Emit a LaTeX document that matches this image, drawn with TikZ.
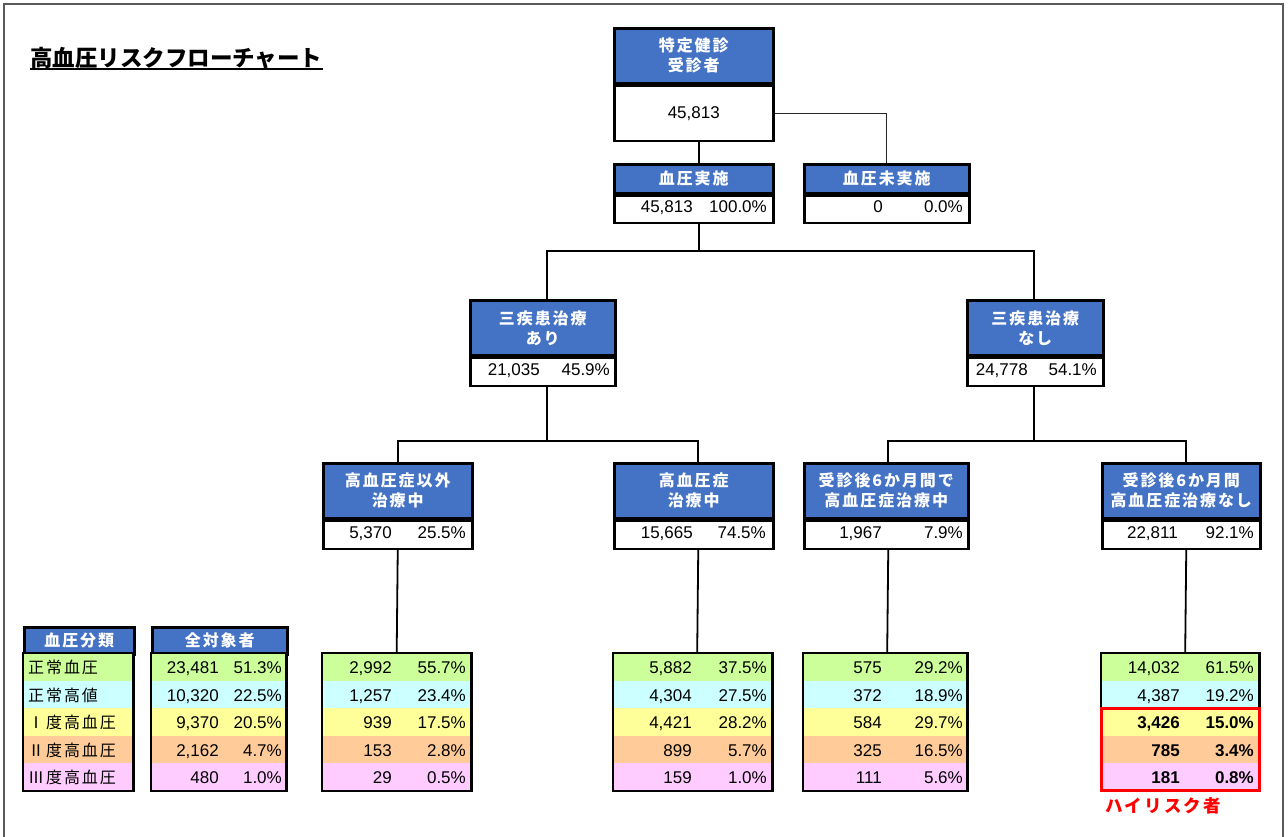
\documentclass[tikz,border=0pt]{standalone}
\usepackage{fontspec}
\setmainfont{Liberation Sans}
\newfontfamily\jp{Noto Sans CJK JP}
\newfontfamily\jpsp[LetterSpace=12]{Noto Sans CJK JP}
\usetikzlibrary{positioning, fit, calc}
\definecolor{hdrblue}{RGB}{68, 114, 196}
\definecolor{bpnorm}{RGB}{204, 255, 153}
\definecolor{bphigh}{RGB}{204, 255, 255}
\definecolor{bpone}{RGB}{255, 255, 153}
\definecolor{bptwo}{RGB}{255, 204, 153}
\definecolor{bpthree}{RGB}{255, 204, 255}
\definecolor{framegray}{RGB}{90, 90, 90}

\begin{document}
\begin{tikzpicture}[x=1pt, y=-1pt,
      hdr/.style={draw, line width=2.5, fill=hdrblue, text=white, inner sep=0, align=center, anchor=north west, font=\jpsp\bfseries\fontsize{16}{20}\selectfont},
      val/.style={draw, line width=2.5, fill=white, inner sep=0, anchor=north, font=\fontsize{17}{20}\selectfont},
      num/.style={anchor=base east, inner sep=0, font=\fontsize{17}{20}\selectfont},
      lbl/.style={anchor=base west, inner sep=0, font=\jpsp\fontsize{16}{20}\selectfont},
      row/.style={fill=#1, inner sep=0, minimum height=27.5, anchor=north west},
      tab/.style={draw, line width=2.5, inner sep=0},
      link/.style={line width=1.8}]

      \useasboundingbox (0,0) rectangle (1288,836);
      \draw[framegray, line width=1.5] (4,850) |- (1283,4) -- (1283,850);

      % Titre
      \node[anchor=base west, inner sep=0, font=\jp\bfseries\fontsize{22.5}{26}\selectfont] (title) at (30,66) {高血圧リスクフローチャート};
      \draw[line width=2] ([yshift=-3]title.base west) -- ([yshift=-3]title.base east);

      %受診者
      \node[hdr, minimum width=159, minimum height=55] (exam-h) at (613,27) {特定健診\\受診者};
      \node[val, minimum width=159, minimum height=55] (exam-v) at (exam-h.south) {45,813};

      % 血圧実施 / 未実施
      \node[hdr, minimum width=159, minimum height=29] (bp-h) at (613,163) {血圧実施};
      \node[val, minimum width=159, minimum height=27] (bp-v) at (bp-h.south) {};
      \node[num] (bp-n) at (693,212.5) {45,813};
      \node[num] (bp-p) at (767,212.5) {100.0\%};
      \node[hdr, minimum width=165, minimum height=29] (nobp-h) at (803,163) {血圧未実施};
      \node[val, minimum width=165, minimum height=27] (nobp-v) at (nobp-h.south) {};
      \node[num] (nobp-n) at (883,212.5) {0};
      \node[num] (nobp-p) at (963,212.5) {0.0\%};

      % 三疾患治療
      \node[hdr, minimum width=145, minimum height=55] (treat-h) at (469,299) {三疾患治療\\あり};
      \node[val, minimum width=145, minimum height=28] (treat-v) at (treat-h.south) {};
      \node[num] (treat-n) at (540,375) {21,035};
      \node[num] (treat-p) at (610,375) {45.9\%};
      \node[hdr, minimum width=136, minimum height=55] (notreat-h) at (966,299) {三疾患治療\\なし};
      \node[val, minimum width=136, minimum height=28] (notreat-v) at (notreat-h.south) {};
      \node[num] (notreat-n) at (1028,375) {24,778};
      \node[num] (notreat-p) at (1097,375) {54.1\%};

      % 高血圧症治療
      \node[hdr, minimum width=149, minimum height=55] (other-h) at (322,462) {高血圧症以外\\治療中};
      \node[val, minimum width=149, minimum height=28] (other-v) at (other-h.south) {};
      \node[num] (other-n) at (392,538) {5,370};
      \node[num] (other-p) at (466,538) {25.5\%};
      \node[hdr, minimum width=159, minimum height=55] (htn-h) at (613,462) {高血圧症\\治療中};
      \node[val, minimum width=159, minimum height=28] (htn-v) at (htn-h.south) {};
      \node[num] (htn-n) at (693,538) {15,665};
      \node[num] (htn-p) at (766,538) {74.5\%};
      \node[hdr, minimum width=164, minimum height=55] (late-h) at (803,462) {受診後6か月間で\\高血圧症治療中};
      \node[val, minimum width=164, minimum height=28] (late-v) at (late-h.south) {};
      \node[num] (late-n) at (882,538) {1,967};
      \node[num] (late-p) at (963,538) {7.9\%};
      \node[hdr, minimum width=158, minimum height=55] (none-h) at (1101,462) {受診後6か月間\\高血圧症治療なし};
      \node[val, minimum width=158, minimum height=28] (none-v) at (none-h.south) {};
      \node[num] (none-n) at (1178,538) {22,811};
      \node[num] (none-p) at (1254,538) {92.1\%};

      % 血圧分類の表
      \node[hdr, minimum width=110, minimum height=27] (class-h) at (23,626) {血圧分類};
      \foreach \t/\c [count=\r] in {正常血圧/bpnorm, 正常高値/bphigh, Ⅰ度高血圧/bpone, Ⅱ度高血圧/bptwo, Ⅲ度高血圧/bpthree}{
        \node[row=\c, minimum width=110] (class-\r) at (23,{653+27.5*(\r-1)}) {};
        \node[lbl] (class-l\r) at (28,{660+27.5*(\r-0.5)}) {\t};
      }
      \node[tab, fit=(class-1)(class-5)] (class) {};

      \node[hdr, minimum width=135, minimum height=27] (all-h) at (151,626) {全対象者};
      \foreach \n/\p/\c [count=\r] in {{23,481}/51.3/bpnorm, {10,320}/22.5/bphigh, {9,370}/20.5/bpone, {2,162}/4.7/bptwo, 480/1.0/bpthree}{
        \node[row=\c, minimum width=135] (all-\r) at (151,{653+27.5*(\r-1)}) {};
        \node[num] (all-n\r) at (219,{660+27.5*(\r-0.5)}) {\n};
        \node[num] (all-p\r) at (282,{660+27.5*(\r-0.5)}) {\p\%};
      }
      \node[tab, fit=(all-1)(all-5)] (all) {};

      \foreach \n/\p/\c [count=\r] in {{2,992}/55.7/bpnorm, {1,257}/23.4/bphigh, 939/17.5/bpone, 153/2.8/bptwo, 29/0.5/bpthree}{
        \node[row=\c, minimum width=149] (other-\r) at (322,{653+27.5*(\r-1)}) {};
        \node[num] (other-n\r) at (392,{660+27.5*(\r-0.5)}) {\n};
        \node[num] (other-p\r) at (466,{660+27.5*(\r-0.5)}) {\p\%};
      }
      \node[tab, fit=(other-1)(other-5)] (other-t) {};

      \foreach \n/\p/\c [count=\r] in {{5,882}/37.5/bpnorm, {4,304}/27.5/bphigh, {4,421}/28.2/bpone, 899/5.7/bptwo, 159/1.0/bpthree}{
        \node[row=\c, minimum width=159] (htn-\r) at (613,{653+27.5*(\r-1)}) {};
        \node[num] (htn-n\r) at (692,{660+27.5*(\r-0.5)}) {\n};
        \node[num] (htn-p\r) at (767,{660+27.5*(\r-0.5)}) {\p\%};
      }
      \node[tab, fit=(htn-1)(htn-5)] (htn-t) {};

      \foreach \n/\p/\c [count=\r] in {575/29.2/bpnorm, 372/18.9/bphigh, 584/29.7/bpone, 325/16.5/bptwo, 111/5.6/bpthree}{
        \node[row=\c, minimum width=164] (late-\r) at (803,{653+27.5*(\r-1)}) {};
        \node[num] (late-n\r) at (882,{660+27.5*(\r-0.5)}) {\n};
        \node[num] (late-p\r) at (963,{660+27.5*(\r-0.5)}) {\p\%};
      }
      \node[tab, fit=(late-1)(late-5)] (late-t) {};

      \foreach \n/\p/\c [count=\r] in {{14,032}/61.5/bpnorm, {4,387}/19.2/bphigh, {3,426}/15.0/bpone, 785/3.4/bptwo, 181/0.8/bpthree}{
        \node[row=\c, minimum width=158] (none-\r) at (1101,{653+27.5*(\r-1)}) {};
        \node[num] (none-n\r) at (1180,{660+27.5*(\r-0.5)}) {\ifnum\r>2 \bfseries\fi\n};
        \node[num] (none-p\r) at (1254,{660+27.5*(\r-0.5)}) {\ifnum\r>2 \bfseries\fi\p\%};
      }
      \node[tab, fit=(none-1)(none-5)] (none-t) {};

      % ハイリスク者
      \node[draw=red, line width=3, inner sep=0, fit=(none-3)(none-5)] (hirisk) {};
      \node[below right=5pt and 6pt of hirisk.south west, inner sep=0, text=red, font=\jpsp\bfseries\fontsize{17.5}{20}\selectfont] (hirisk-l) {ハイリスク者};

      % 線
      \draw[line width=1.3, black!85] (exam-v.east) -| (nobp-h.north);
      \draw[link] ([xshift=5]exam-v.south) -- ([xshift=5]bp-h.north);
      \draw[link] ([xshift=5]bp-v.south) -- ++(0,27) coordinate (split1);
      \draw[link] ([xshift=4]treat-h.north) |- (split1) -| ([xshift=-1]notreat-h.north);
      \draw[link] ([xshift=4]treat-v.south) -- ++(0,54) coordinate (split2);
      \draw[link] (other-h.north) |- (split2) -| ([xshift=4.5]htn-h.north);
      \draw[link] ([xshift=-1]notreat-v.south) -- ++(0,54) coordinate (split3);
      \draw[link] ([xshift=2]late-h.north) |- (split3) -| ([xshift=5]none-h.north);
      \draw[link] (other-v.south) -- (other-t.north);
      \draw[link] ([xshift=4.5]htn-v.south) -- ([xshift=4.5]htn-t.north);
      \draw[link] ([xshift=2]late-v.south) -- ([xshift=2]late-t.north);
      \draw[link] ([xshift=5]none-v.south) -- ([xshift=5]none-t.north);
    \end{tikzpicture}
\end{document}
